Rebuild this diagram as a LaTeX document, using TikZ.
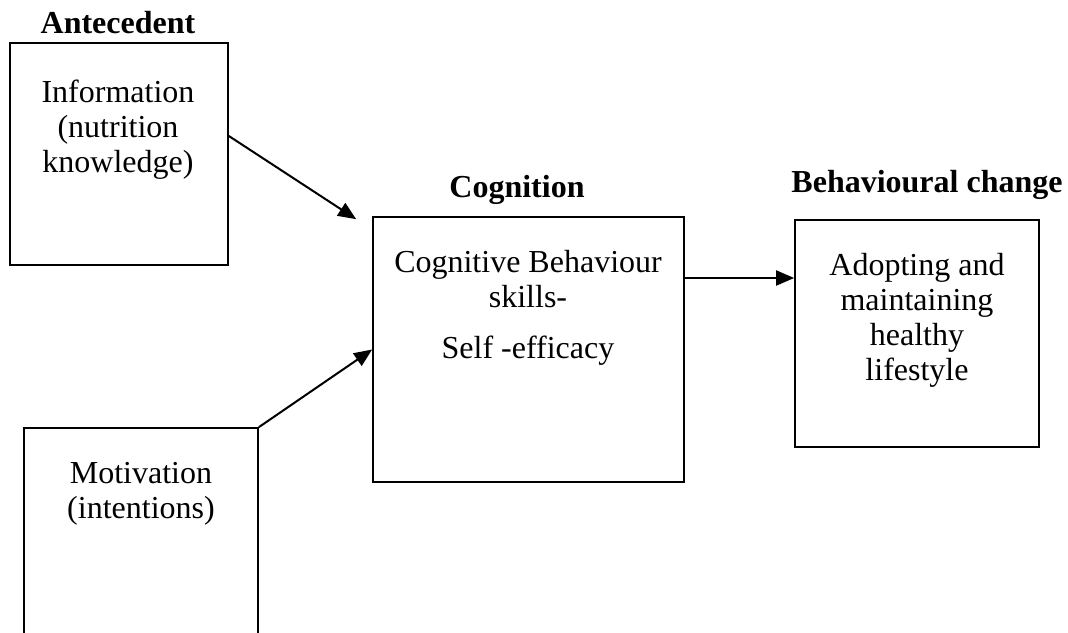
\documentclass[tikz,border=0pt]{standalone}
\usepackage{fontspec}
\setmainfont{Liberation Serif}
\usetikzlibrary{arrows.meta}
\begin{document}
\begin{tikzpicture}[x=0.5pt,y=-0.5pt,
  box/.style={draw=black,line width=0.85pt,rectangle,inner sep=0pt},
  boxtext/.style={anchor=north,inner sep=0pt,align=center,font=\fontsize{16}{17.5}\selectfont},
  heading/.style={anchor=base,inner sep=0pt,font=\fontsize{16}{17.5}\selectfont\bfseries},
  conn/.style={line width=1pt,-{Triangle[length=9pt,width=7.5pt]}}]
\clip (0,0) rectangle (1068,632);
\fill[white] (0,0) rectangle (1068,632);

% boxes
\node[box,minimum width=109pt,minimum height=111pt] (info) at (119,154) {};
\node[box,minimum width=155.5pt,minimum height=132.5pt] (cog) at (528.5,349.5) {};
\node[box,minimum width=122pt,minimum height=113.5pt] (beh) at (917,333.5) {};
\node[box,minimum width=117pt,minimum height=116pt] (motiv) at (141,544) {};

% headings
\node[heading] (hant) at (118,33) {Antecedent};
\node[heading] (hcog) at (517,197) {Cognition};
\node[heading] (hbeh) at (927,192) {Behavioural change};

% texts
\node[boxtext] (tinfo) at (118,77.5) {\strut Information\\(nutrition\\knowledge)};
\node[boxtext] (tcog) at (528,247.5) {\strut Cognitive Behaviour\\skills-\\[8pt]Self -efficacy};
\node[boxtext] (tbeh) at (917,250.5) {\strut Adopting and\\maintaining\\healthy\\lifestyle};
\node[boxtext] (tmotiv) at (141,458.5) {\strut Motivation\\(intentions)};

% connectors
\coordinate (tip1) at ([xshift=-8pt,yshift=-1.5pt]cog.north west);
\coordinate (s1) at ([yshift=9pt]info.east);
\coordinate (s3) at ([yshift=35.75pt]cog.east);
\draw[conn] (s1) -- (tip1);
\draw[conn] (motiv.north east) -- (cog.west);
\draw[conn] (s3) -- (s3 -| beh.west);
\end{tikzpicture}
\end{document}
